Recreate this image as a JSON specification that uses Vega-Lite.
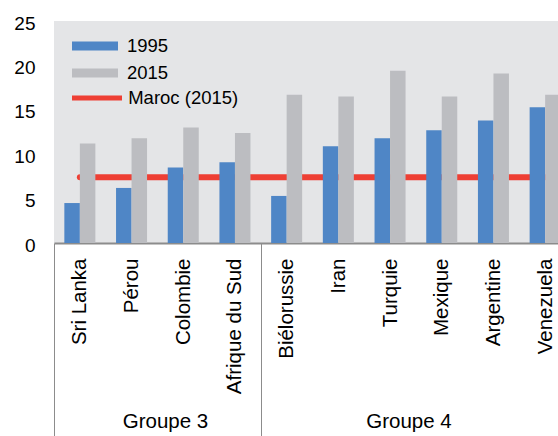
{
  "$schema": "https://vega.github.io/schema/vega-lite/v6.json",
  "width": 504,
  "height": 222,
  "autosize": {"type": "none"},
  "padding": {"left": 54, "top": 21, "right": 0, "bottom": 193},
  "background": "white",
  "config": {
    "view": {"fill": "#e4e5e7", "stroke": null},
    "font": "Liberation Sans",
    "axis": {"labelFont": "Liberation Sans", "labelColor": "#000000", "grid": false, "title": null},
    "legend": {"labelFont": "Liberation Sans", "labelColor": "#000000"}
  },
  "datasets": {
    "barres": [
      {"pays": "Sri Lanka", "annee": "1995", "valeur": 4.5},
      {"pays": "Sri Lanka", "annee": "2015", "valeur": 11.2},
      {"pays": "Pérou", "annee": "1995", "valeur": 6.2},
      {"pays": "Pérou", "annee": "2015", "valeur": 11.8},
      {"pays": "Colombie", "annee": "1995", "valeur": 8.5},
      {"pays": "Colombie", "annee": "2015", "valeur": 13.0},
      {"pays": "Afrique du Sud", "annee": "1995", "valeur": 9.1},
      {"pays": "Afrique du Sud", "annee": "2015", "valeur": 12.4},
      {"pays": "Biélorussie", "annee": "1995", "valeur": 5.3},
      {"pays": "Biélorussie", "annee": "2015", "valeur": 16.7},
      {"pays": "Iran", "annee": "1995", "valeur": 10.9},
      {"pays": "Iran", "annee": "2015", "valeur": 16.5},
      {"pays": "Turquie", "annee": "1995", "valeur": 11.8},
      {"pays": "Turquie", "annee": "2015", "valeur": 19.4},
      {"pays": "Mexique", "annee": "1995", "valeur": 12.7},
      {"pays": "Mexique", "annee": "2015", "valeur": 16.5},
      {"pays": "Argentine", "annee": "1995", "valeur": 13.8},
      {"pays": "Argentine", "annee": "2015", "valeur": 19.1},
      {"pays": "Venezuela", "annee": "1995", "valeur": 15.3},
      {"pays": "Venezuela", "annee": "2015", "valeur": 16.7}
    ],
    "maroc": [
      {"pays": "Sri Lanka", "serie": "Maroc (2015)", "valeur": 7.4},
      {"pays": "Pérou", "serie": "Maroc (2015)", "valeur": 7.4},
      {"pays": "Colombie", "serie": "Maroc (2015)", "valeur": 7.4},
      {"pays": "Afrique du Sud", "serie": "Maroc (2015)", "valeur": 7.4},
      {"pays": "Biélorussie", "serie": "Maroc (2015)", "valeur": 7.4},
      {"pays": "Iran", "serie": "Maroc (2015)", "valeur": 7.4},
      {"pays": "Turquie", "serie": "Maroc (2015)", "valeur": 7.4},
      {"pays": "Mexique", "serie": "Maroc (2015)", "valeur": 7.4},
      {"pays": "Argentine", "serie": "Maroc (2015)", "valeur": 7.4},
      {"pays": "Venezuela", "serie": "Maroc (2015)", "valeur": 7.4}
    ],
    "groupes": [
      {"groupe": "Groupe 3"},
      {"groupe": "Groupe 4"}
    ]
  },
  "layer": [
    {
      "layer": [
        {
          "data": {"name": "maroc"},
          "mark": {"type": "line", "strokeWidth": 6, "strokeCap": "round"},
          "encoding": {
            "x": {"field": "pays", "type": "nominal", "sort": null},
            "y": {"field": "valeur", "type": "quantitative"},
            "stroke": {
              "field": "serie", "type": "nominal",
              "scale": {"domain": ["Maroc (2015)"], "range": ["#ee3f34"]},
              "legend": {
                "orient": "none", "legendX": 15.5, "legendY": 64.5, "title": null,
                "padding": 0, "symbolSize": 2500, "symbolStrokeWidth": 5,
                "labelOffset": 3.7, "clipHeight": 25, "labelFontSize": 18.5
              }
            }
          }
        },
        {
          "data": {"name": "barres"},
          "mark": {"type": "bar"},
          "encoding": {
            "x": {
              "field": "pays", "type": "nominal", "sort": null,
              "scale": {
                "domain": ["Sri Lanka", "Pérou", "Colombie", "Afrique du Sud", "Biélorussie", "Iran", "Turquie", "Mexique", "Argentine", "Venezuela"],
                "range": [0, 517], "paddingInner": 0, "paddingOuter": 0
              },
              "axis": {
                "orient": "bottom", "title": null, "labelAngle": 270, "labelAlign": "right", "labelBaseline": "middle",
                "labelFontSize": 20.5, "labelPadding": -178, "labelOverlap": false,
                "tickBand": "extent", "tickSize": 193, "tickColor": "#8c8c8c", "tickWidth": 1,
                "tickOpacity": {"condition": {"test": "datum.value === 'Afrique du Sud' || datum.extra", "value": 1}, "value": 0},
                "domainColor": "#8c8c8c", "domainWidth": 2
              }
            },
            "xOffset": {"field": "annee", "type": "nominal", "scale": {"paddingInner": 0, "paddingOuter": 0.667}},
            "y": {
              "field": "valeur", "type": "quantitative",
              "scale": {"domain": [0, 25], "nice": false},
              "axis": {
                "title": null, "values": [0, 5, 10, 15, 20, 25], "domain": false, "ticks": false,
                "labelFontSize": 19, "labelPadding": 19, "labelOffset": 2
              }
            },
            "color": {
              "field": "annee", "type": "nominal",
              "scale": {"domain": ["1995", "2015"], "range": ["#4f86c6", "#bcbdc1"]},
              "legend": {
                "orient": "none", "legendX": 18, "legendY": 12.5, "title": null, "padding": 0,
                "symbolType": "M-1,-0.2H1V0.2H-1Z", "symbolSize": 2116, "symbolStrokeWidth": 0,
                "clipHeight": 25, "rowPadding": 2, "labelOffset": 9, "labelFontSize": 18.5
              }
            }
          }
        }
      ]
    },
    {
      "data": {"name": "groupes"},
      "mark": {"type": "point", "opacity": 0},
      "encoding": {
        "x": {
          "field": "groupe", "type": "nominal",
          "scale": {"type": "point", "range": [111, 354.5], "padding": 0},
          "axis": {
            "orient": "bottom", "title": null, "domain": false, "ticks": false, "labelAngle": 0,
            "labelAlign": "center", "labelBaseline": "alphabetic", "labelFontSize": 20.5, "labelPadding": 184
          }
        }
      }
    }
  ],
  "resolve": {"scale": {"x": "independent"}, "axis": {"x": "independent"}}
}
